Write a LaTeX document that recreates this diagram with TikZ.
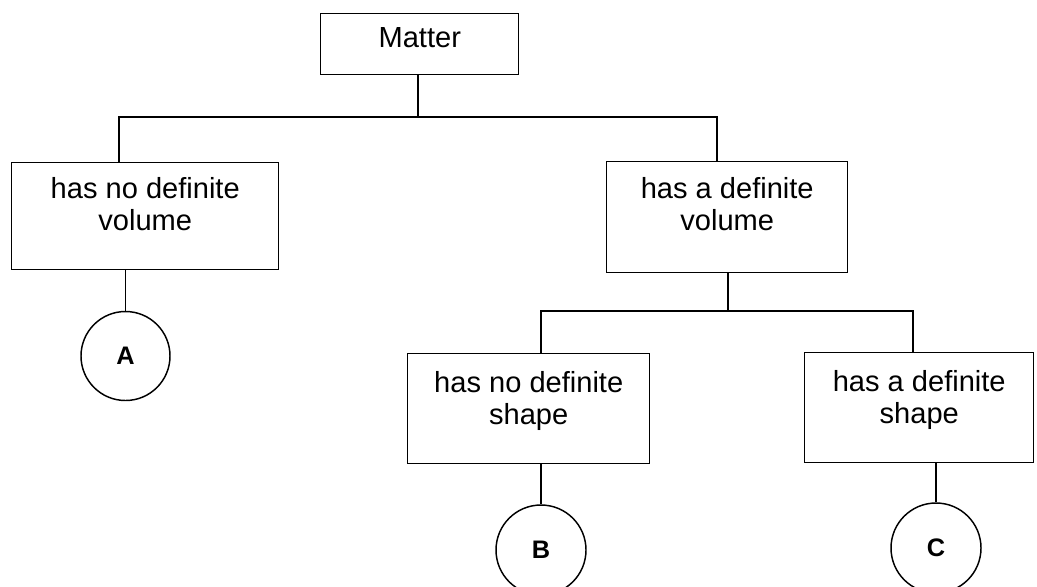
\documentclass[tikz,border=0pt]{standalone}
\usepackage{fontspec}
\setmainfont{Liberation Sans}
\begin{document}
\begin{tikzpicture}[x=0.75pt,y=-0.75pt,
  box/.style={draw, line width=1.1pt, rectangle, inner sep=0pt, anchor=north west,
    align=center, font=\fontsize{21.8}{24}\selectfont},
  leaf/.style={draw, line width=1.1pt, circle, inner sep=0pt, minimum size=67.5pt,
    font=\fontsize{19}{21}\selectfont\bfseries},
  link/.style={line width=1.1pt}]
\useasboundingbox (0,0) rectangle (1037,586);
\clip (0,0) rectangle (1037,586);

% boxes of the classification tree (text height is measured to the last baseline)
\node[box, minimum width=148.5pt, text height=25.5pt, text depth=20.25pt] (matter) at (320,13) {Matter};
\node[box, minimum width=200.25pt, text height=51pt, text depth=29.25pt] (noV) at (11,162) {has no definite\\volume};
\node[box, minimum width=180.75pt, text height=51.75pt, text depth=31.5pt] (defV) at (606,161) {has a definite\\volume};
\node[box, minimum width=181.5pt, text height=53.25pt, text depth=29.25pt] (noS) at (407,353) {has no definite\\shape};
\node[box, minimum width=171.75pt, text height=53.25pt, text depth=29.25pt] (defS) at (804,352) {has a definite\\shape};

% end states
\node[leaf, minimum size=66.75pt] (A) at (125.5,356) {A};
\node[leaf] (B) at (541,550) {B};
\node[leaf] (C) at (936,548) {C};

% first branching
\coordinate (bar1) at (418,117);
\coordinate (xL) at (119,0);
\coordinate (xR) at (717,0);
\draw[link] (matter.south -| bar1) -- (bar1);
\draw[link] (noV.north -| xL) |- (bar1) -| (defV.north -| xR);

% second branching
\coordinate (bar2) at (728,311);
\coordinate (xB) at (541,0);
\coordinate (xC) at (913,0);
\draw[link] (defV.south -| bar2) -- (bar2);
\draw[link] (noS.north -| xB) |- (bar2) -| (defS.north -| xC);

% leaves
\draw[link] (A.north |- noV.south) -- (A.north);
\draw[link] (B.north |- noS.south) -- (B.north);
\draw[link] (C.north |- defS.south) -- (C.north);
\end{tikzpicture}
\end{document}
